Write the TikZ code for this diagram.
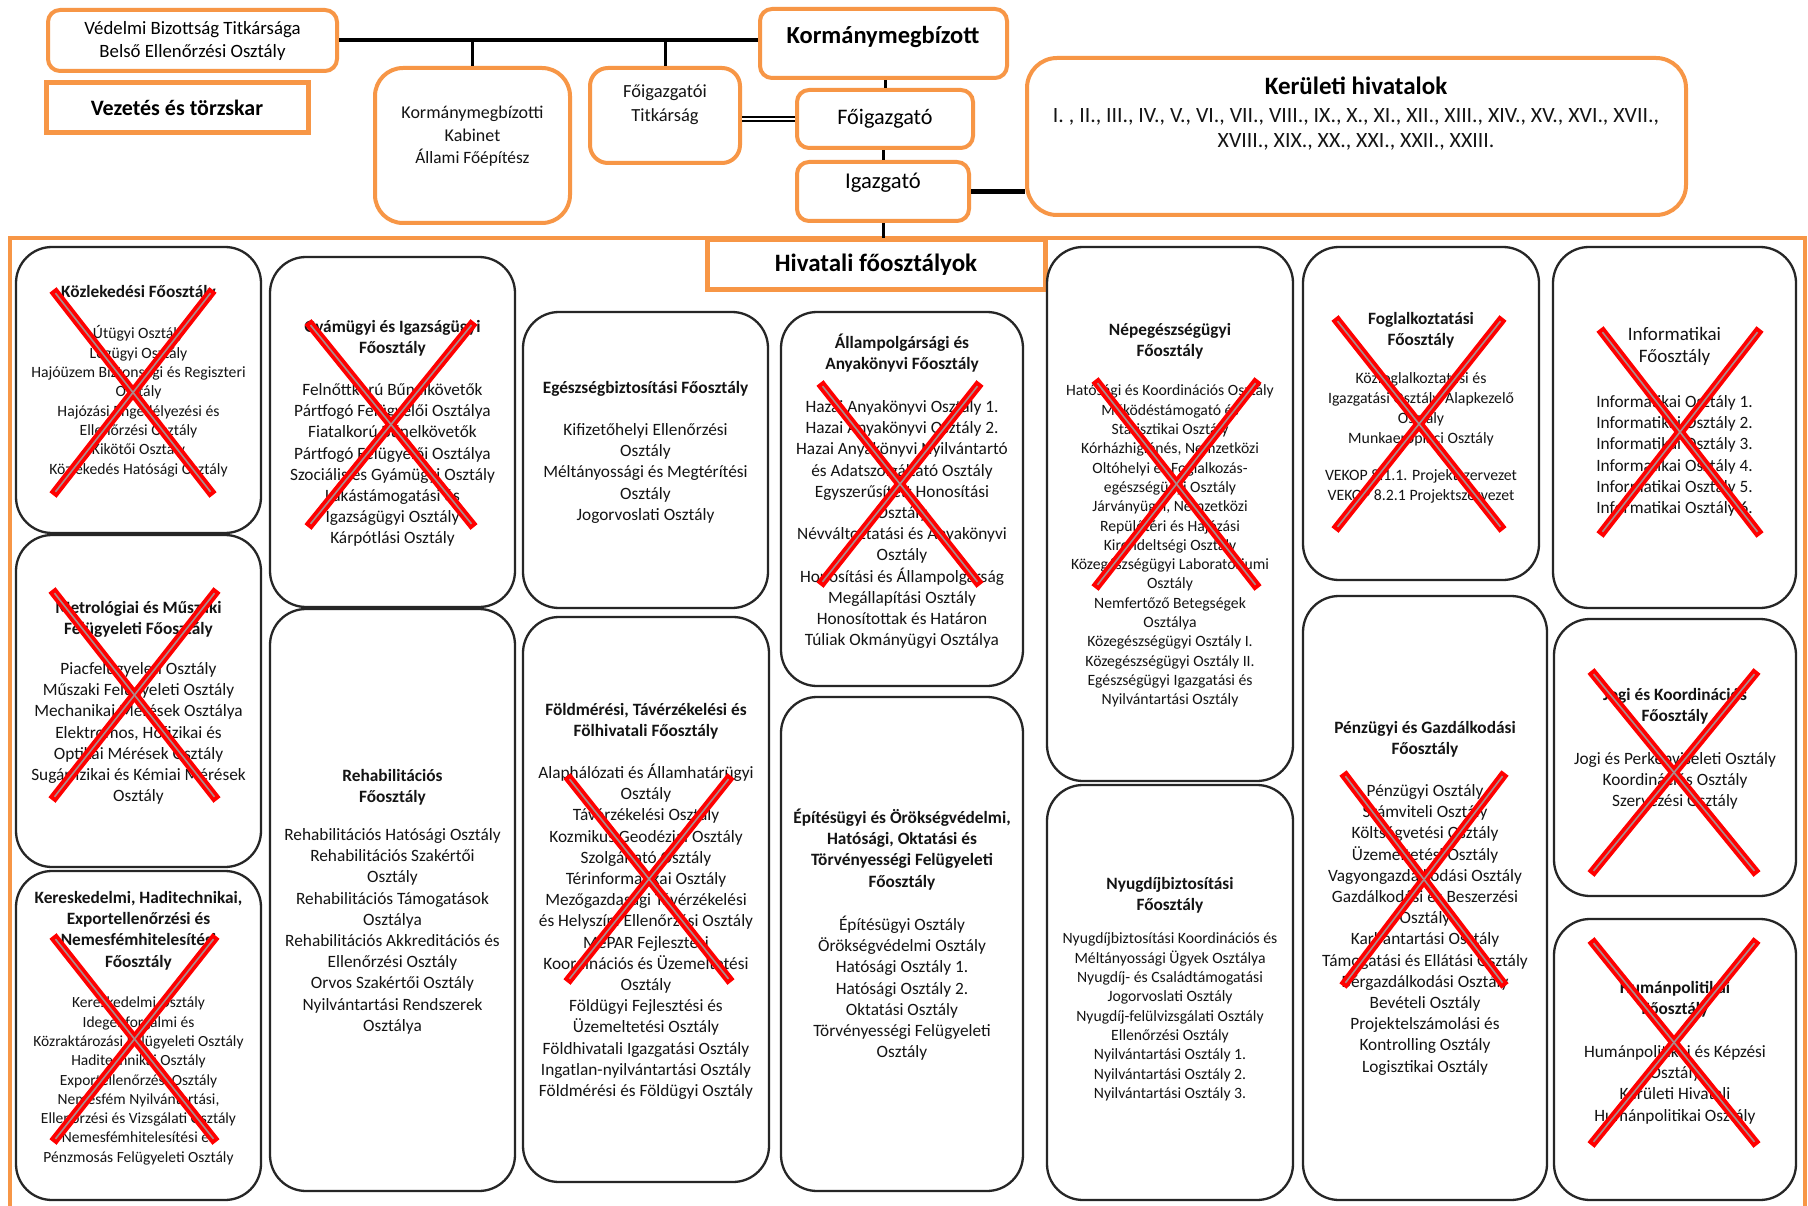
\documentclass[tikz,border=0pt]{standalone}
\usepackage{fontspec}
\setmainfont{Carlito}
\definecolor{org}{RGB}{247,150,70}
\definecolor{xg}{RGB}{170,140,140}
\newcommand{\redcross}[4]{%
  \draw[xr] (#1,#2) -- (#3,#4);
  \draw[xr] (#3,#2) -- (#1,#4);
  \draw[xc] (#1,#2) -- (#3,#4);
  \draw[xc] (#3,#2) -- (#1,#4);}
\begin{document}
\begin{tikzpicture}[x=1pt,y=-1pt,
  obox/.style={draw=org, line width=4pt, fill=white, inner sep=0pt, align=center},
  dept/.style={draw=black!85, line width=2.3pt, rounded corners=36pt, inner sep=0pt},
  conn/.style={draw=black, line width=3pt},
  tn/.style={anchor=north, inner sep=0pt, align=center, text=black!92},
  ttl/.style={tn, font=\fontsize{17.3}{21.2}\selectfont\bfseries},
  bodyL/.style={tn, font=\fontsize{17.3}{21.2}\selectfont},
  bodyS/.style={tn, font=\fontsize{15.7}{19.3}\selectfont},
  xr/.style={red, line width=9pt},
  xc/.style={xg, line width=1.6pt, shorten <=4pt, shorten >=4pt}]
\useasboundingbox (0,0) rectangle (1808,1206);
\fill[white] (0,0) rectangle (1808,1206);

% ---------- frame ----------
\coordinate (fr) at (10,238);
\draw[org, line width=4pt] (10,1210) -- (fr) -- (1805,238) -- (1805,1210);

% ---------- top boxes ----------
\node[obox, rounded corners=12pt, minimum width=289pt, minimum height=61pt,
  font=\fontsize{18.8}{23}\selectfont] (ved) at (192.5,40.5)
  {Védelmi Bizottság Titkársága\\Belső Ellenőrzési Osztály};
\node[obox, line width=5pt, minimum width=262pt, minimum height=50pt,
  font=\fontsize{22}{26}\selectfont\bfseries] (vez) at (177,108) {Vezetés és törzskar};
\node[obox, rounded corners=12pt, minimum width=247pt, minimum height=69pt] (korm) at (883.5,43.5) {};
\node[obox, rounded corners=28pt, minimum width=195pt, minimum height=155pt] (kab) at (472.5,145.5) {};
\node[obox, rounded corners=18pt, minimum width=150pt, minimum height=95pt] (titk) at (665,115.5) {};
\node[obox, rounded corners=12pt, minimum width=176pt, minimum height=58pt,
  font=\fontsize{22.2}{26}\selectfont] (foig) at (885,119) {Főigazgató};
\node[obox, rounded corners=12pt, minimum width=172pt, minimum height=59pt] (igaz) at (883,191.5) {};
\node[obox, rounded corners=30pt, minimum width=659pt, minimum height=157pt] (ker) at (1356.5,136.5) {};
\node[obox, line width=5pt, minimum width=338pt, minimum height=50pt,
  font=\fontsize{25}{30}\selectfont\bfseries] (hiv) at (876,265) {Hivatali főosztályok};

% top texts
\node[anchor=base, inner sep=0pt, font=\fontsize{24.5}{29}\selectfont\bfseries] (kormt) at (883,44) {Kormánymegbízott};
\node[tn, font=\fontsize{18}{22.5}\selectfont] (kabt) at (472.5,102.6)
  {\strut Kormánymegbízotti\\Kabinet\\{\fontsize{17.3}{22.5}\selectfont Állami Főépítész}};
\node[tn, font=\fontsize{18.5}{24}\selectfont] (titkt) at (665,80.8) {\strut Főigazgatói\\Titkárság};
\node[anchor=base, inner sep=0pt, font=\fontsize{22.6}{27}\selectfont] (igazt) at (883,189) {Igazgató};
\node[anchor=base, inner sep=0pt, font=\fontsize{25}{30}\selectfont\bfseries] (kert1) at (1356,94.5) {Kerületi hivatalok};
\node[tn, font=\fontsize{21.8}{25}\selectfont] (kert2) at (1356,105)
  {\strut I. , II., III., IV., V., VI., VII., VIII., IX., X., XI., XII., XIII., XIV., XV., XVI., XVII.,\\XVIII., XIX., XX., XXI., XXII., XXIII.};

% connectors
\draw[conn, line width=4pt] (ved.east) -- (ved.east -| korm.west);
\draw[conn] (kab.north) -- (kab.north |- ved.east);
\draw[conn] (titk.north) -- (titk.north |- ved.east);
\draw[conn] (foig.north) -- (foig.north |- korm.south);
\draw[black, line width=2pt, double=white, double distance=1.2pt] (titk.east |- foig.west) -- (foig.west);
\draw[conn] (igaz.north) -- (igaz.north |- foig.south);
\draw[conn, line width=5pt] (igaz.east) -- (igaz.east -| ker.west);
\draw[conn] (igaz.south) -- (igaz.south |- fr);

% ---------- department boxes ----------
\node[dept, minimum width=245pt, minimum height=286pt] (kozl) at (138.5,390) {};
\node[dept, minimum width=245pt, minimum height=332pt] (metr) at (138.5,701) {};
\node[dept, minimum width=245pt, minimum height=329pt] (kere) at (138.5,1035.5) {};
\node[dept, minimum width=245pt, minimum height=350pt] (gyam) at (392.5,432) {};
\node[dept, minimum width=245pt, minimum height=582pt] (rehab) at (392.5,900) {};
\node[dept, minimum width=245pt, minimum height=296pt] (egesz) at (645.5,460) {};
\node[dept, minimum width=246pt, minimum height=565pt] (fold) at (646,899.5) {};
\node[dept, minimum width=242pt, minimum height=374pt] (allam) at (902,499) {};
\node[dept, minimum width=242pt, minimum height=494pt] (epit) at (902,944) {};
\node[dept, minimum width=246pt, minimum height=534pt] (nep) at (1170,514) {};
\node[dept, minimum width=246pt, minimum height=415pt] (nyug) at (1170,992.5) {};
\node[dept, minimum width=236pt, minimum height=333pt] (fogl) at (1421,413.5) {};
\node[dept, minimum width=244pt, minimum height=604pt] (penz) at (1425,898) {};
\node[dept, minimum width=243pt, minimum height=361pt] (info) at (1674.5,427.5) {};
\node[dept, minimum width=242pt, minimum height=277pt] (jogi) at (1675,757.5) {};
\node[dept, minimum width=242pt, minimum height=281pt] (human) at (1675,1059.5) {};

% ---------- department texts ----------
\node[ttl] (kozlt) at (138.5,282.4) {\strut Közlekedési Főosztály};
\node[bodyS] (kozlb) at (138.5,325.2) {\strut Útügyi Osztály\\Légügyi Osztály\\Hajóüzem Biztonsági és Regiszteri\\Osztály\\Hajózási Engedélyezési és\\Ellenőrzési Osztály\\Kikötői Osztály\\Közlekedés Hatósági Osztály};

\node[ttl] (metrt) at (138.5,598.4) {\strut Metrológiai és Műszaki\\Felügyeleti Főosztály};
\node[bodyL] (metrb) at (138.5,659.4) {\strut Piacfelügyeleti Osztály\\Műszaki Felügyeleti Osztály\\Mechanikai Mérések Osztálya\\Elektromos, Hőfizikai és\\Optikai Mérések Osztály\\Sugárfizikai és Kémiai Mérések\\Osztály};

\node[ttl] (keret) at (138.5,888.4) {\strut Kereskedelmi, Haditechnikai,\\Exportellenőrzési és\\Nemesfémhitelesítési\\Főosztály};
\node[tn, font=\fontsize{15.5}{19.3}\selectfont] (kereb) at (138.5,994.1) {\strut Kereskedelmi Osztály\\Idegenforgalmi és\\Közraktározási Felügyeleti Osztály\\Haditechnikai Osztály\\Exportellenőrzési Osztály\\Nemesfém Nyilvántartási,\\Ellenőrzési és Vizsgálati Osztály\\Nemesfémhitelesítési és\\Pénzmosás Felügyeleti Osztály};

\node[ttl] (gyamt) at (392.5,317.4) {\strut Gyámügyi és Igazságügyi\\Főosztály};
\node[bodyL] (gyamb) at (392.5,380.4) {\strut Felnőttkorú Bűnelkövetők\\Pártfogó Felügyelői Osztálya\\Fiatalkorú Bűnelkövetők\\Pártfogó Felügyelői Osztálya\\Szociális és Gyámügyi Osztály\\Lakástámogatási és\\Igazságügyi Osztály\\Kárpótlási Osztály};

\node[ttl] (rehabt) at (392.5,766.4) {\strut Rehabilitációs\\Főosztály};
\node[bodyL] (rehabb) at (392.5,825.4) {\strut Rehabilitációs Hatósági Osztály\\Rehabilitációs Szakértői\\Osztály\\Rehabilitációs Támogatások\\Osztálya\\Rehabilitációs Akkreditációs és\\Ellenőrzési Osztály\\Orvos Szakértői Osztály\\Nyilvántartási Rendszerek\\Osztálya};

\node[ttl] (egeszt) at (645.5,378.4) {\strut Egészségbiztosítási Főosztály};
\node[bodyL] (egeszb) at (645.5,420.4) {\strut Kifizetőhelyi Ellenőrzési\\Osztály\\Méltányossági és Megtérítési\\Osztály\\Jogorvoslati Osztály};

\node[ttl] (foldt) at (646,700.4) {\strut Földmérési, Távérzékelési és\\Fölhivatali Főosztály};
\node[bodyL] (foldb) at (646,763.4) {\strut Alaphálózati és Államhatárügyi\\Osztály\\Távérzékelési Osztály\\Kozmikus Geodéziai Osztály\\Szolgáltató Osztály\\Térinformatikai Osztály\\Mezőgazdasági Távérzékelési\\és Helyszíni Ellenőrzési Osztály\\MePAR Fejlesztési\\Koordinációs és Üzemeltetési\\Osztály\\Földügyi Fejlesztési és\\Üzemeltetési Osztály\\Földhivatali Igazgatási Osztály\\Ingatlan-nyilvántartási Osztály\\Földmérési és Földügyi Osztály};

\node[ttl] (allamt) at (902,333.4) {\strut Állampolgársági és\\Anyakönyvi Főosztály};
\node[bodyL] (allamb) at (902,397.4) {\strut Hazai Anyakönyvi Osztály 1.\\Hazai Anyakönyvi Osztály 2.\\Hazai Anyakönyvi Nyilvántartó\\és Adatszolgáltató Osztály\\Egyszerűsített Honosítási\\Osztály\\Névváltoztatási és Anyakönyvi\\Osztály\\Honosítási és Állampolgárság\\Megállapítási Osztály\\Honosítottak és Határon\\Túliak Okmányügyi Osztálya};

\node[ttl] (epitt) at (902,808.4) {\strut Építésügyi és Örökségvédelmi,\\Hatósági, Oktatási és\\Törvényességi Felügyeleti\\Főosztály};
\node[bodyL] (epitb) at (902,915.4) {\strut Építésügyi Osztály\\Örökségvédelmi Osztály\\Hatósági Osztály 1.\\Hatósági Osztály 2.\\Oktatási Osztály\\Törvényességi Felügyeleti\\Osztály};

\node[ttl] (nept) at (1170,320.4) {\strut Népegészségügyi\\Főosztály};
\node[bodyS] (nepb) at (1170,382.2) {\strut Hatósági és Koordinációs Osztály\\Működéstámogató és\\Statisztikai Osztály\\Kórházhigiénés, Nemzetközi\\Oltóhelyi és Foglalkozás-\\egészségügyi Osztály\\Járványügyi, Nemzetközi\\Repülőtéri és Hajózási\\Kirendeltségi Osztály\\Közegészségügyi Laboratóriumi\\Osztály\\Nemfertőző Betegségek\\Osztálya\\Közegészségügyi Osztály I.\\Közegészségügyi Osztály II.\\Egészségügyi Igazgatási és\\Nyilvántartási Osztály};

\node[ttl] (nyugt) at (1170,874.4) {\strut Nyugdíjbiztosítási\\Főosztály};
\node[bodyS] (nyugb) at (1170,930.2) {\strut Nyugdíjbiztosítási Koordinációs és\\Méltányossági Ügyek Osztálya\\Nyugdíj- és Családtámogatási\\Jogorvoslati Osztály\\Nyugdíj-felülvizsgálati Osztály\\Ellenőrzési Osztály\\Nyilvántartási Osztály 1.\\Nyilvántartási Osztály 2.\\Nyilvántartási Osztály 3.};

\node[ttl] (foglt) at (1421,309.4) {\strut Foglalkoztatási\\Főosztály};
\node[tn, font=\fontsize{15.8}{20}\selectfont] (foglb) at (1421,369) {\strut Közfoglalkoztatási és\\Igazgatási Osztály/Alapkezelő\\Osztály\\Munkaerőpiaci Osztály\\[17pt]VEKOP 8.1.1. Projektszervezet\\VEKOP 8.2.1 Projektszervezet};

\node[ttl] (penzt) at (1425,718.4) {\strut Pénzügyi és Gazdálkodási\\Főosztály};
\node[bodyL] (penzb) at (1425,781.4) {\strut Pénzügyi Osztály\\Számviteli Osztály\\Költségvetési Osztály\\Üzemeltetési Osztály\\Vagyongazdálkodási Osztály\\Gazdálkodási és Beszerzési\\Osztály\\Karbantartási Osztály\\Támogatási és Ellátási Osztály\\Bérgazdálkodási Osztály\\Bevételi Osztály\\Projektelszámolási és\\Kontrolling Osztály\\Logisztikai Osztály};

\node[tn, font=\fontsize{19}{22}\selectfont] (infot) at (1674.5,325.3) {\strut Informatikai\\Főosztály};
\node[bodyL] (infob) at (1674.5,392.4) {\strut Informatikai Osztály 1.\\Informatikai Osztály 2.\\Informatikai Osztály 3.\\Informatikai Osztály 4.\\Informatikai Osztály 5.\\Informatikai Osztály 6.};

\node[ttl] (jogit) at (1675,685.4) {\strut Jogi és Koordinációs\\Főosztály};
\node[bodyL] (jogib) at (1675,749.4) {\strut Jogi és Perképviseleti Osztály\\Koordinációs Osztály\\Szervezési Osztály};

\node[ttl] (humant) at (1675,978.4) {\strut Humánpolitikai\\Főosztály};
\node[bodyL] (humanb) at (1675,1042.4) {\strut Humánpolitikai és Képzési\\Osztály\\Kerületi Hivatali\\Humánpolitikai Osztály};

% ---------- red crosses ----------
\redcross{53}{290}{213}{495}
\redcross{52}{590}{217}{800}
\redcross{53}{936}{216}{1142}
\redcross{308}{322}{474}{527}
\redcross{820}{383}{980}{585}
\redcross{567}{776}{731}{982}
\redcross{1095}{380}{1258}{588}
\redcross{1335}{318}{1503}{530}
\redcross{1343}{773}{1505}{986}
\redcross{1600}{329}{1760}{535}
\redcross{1591}{671}{1757}{874}
\redcross{1591}{940}{1757}{1145}
\end{tikzpicture}
\end{document}
